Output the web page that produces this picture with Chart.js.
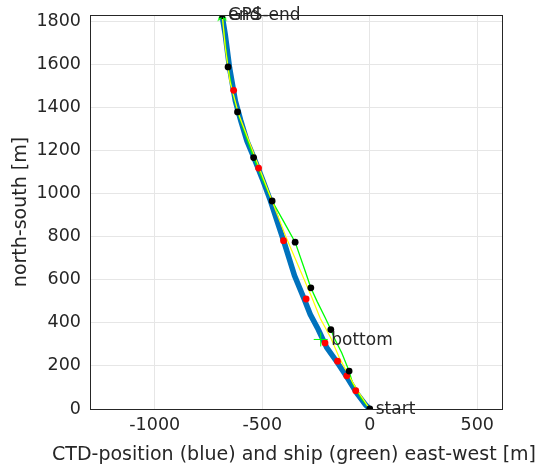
<!DOCTYPE html>
<html>
<head>
<meta charset="utf-8">
<script src="https://cdn.jsdelivr.net/npm/chart.js@4/dist/chart.umd.min.js"></script>
<style>
  html, body { margin: 0; padding: 0; background: #fff; }
  #wrap { width: 545px; height: 464px; position: relative; }
</style>
</head>
<body>
<div id="wrap"><canvas id="c" width="545" height="464"></canvas></div>
<script>
// ------------------------------------------------------------
// data (metres, east-west / north-south)
// ------------------------------------------------------------
const ctdX  = [0, -20, -60, -107, -150, -200, -240, -277, -305, -350, -400, -430, -462, -500, -540, -571, -600, -625, -652, -672, -687];
const ctdY  = [0, 20, 73, 150, 215, 285, 370, 440, 511, 620, 780, 870, 968, 1070, 1170, 1245, 1340, 1431, 1585, 1739, 1830];

const shipX = [0, -40, -80, -96, -130, -165, -181, -210, -245, -274, -300, -347, -400, -454, -500, -540, -580, -615, -640, -659, -672, -686];
const shipY = [0, 50, 120, 176, 260, 330, 369, 430, 500, 563, 640, 775, 870, 966, 1070, 1168, 1280, 1380, 1480, 1589, 1700, 1830];

const midX  = [0, -60, -100, -140, -181, -230, -270, -330, -390, -454, -510, -560, -610, -650, -672, -686];
const midY  = [0, 90, 160, 235, 330, 420, 520, 660, 800, 966, 1110, 1240, 1370, 1520, 1680, 1830];

const shipDotX = [0, -96, -181, -274, -347, -454, -540, -615, -659];
const shipDotY = [0, 176, 369, 563, 775, 966, 1168, 1380, 1589];

const ctdDotX  = [-65, -107, -150, -208, -296, -401, -517, -633];
const ctdDotY  = [85, 154, 222, 307, 511, 782, 1119, 1480];

const endX = [-686], endY = [1830];
const bottomX = [-228], bottomY = [323];

const labelText = ['start', 'bottom', 'end', 'GPS-end'];
const labelX    = [0, -207, -686, -686];
const labelY    = [0, 323, 1830, 1830];

const xTitle = 'CTD-position (blue) and ship (green) east-west [m]';
const yTitle = 'north-south [m]';
const xTicks = [-1000, -500, 0, 500];
const yTicks = [0, 200, 400, 600, 800, 1000, 1200, 1400, 1600, 1800];
const xRange = [-1301, 615];
const yRange = [0, 1830];

const pts = (xs, ys) => xs.map((x, i) => ({ x, y: ys[i] }));

// green pentagram marker
function pentagram(size, color) {
  const cv = document.createElement('canvas');
  cv.width = size; cv.height = size;
  const g = cv.getContext('2d');
  const c = size / 2, R = size / 2 - 1, r = R * 0.38;
  g.beginPath();
  for (let i = 0; i < 10; i++) {
    const a = -Math.PI / 2 + i * Math.PI / 5;
    const rr = i % 2 ? r : R;
    g.lineTo(c + rr * Math.cos(a), c + rr * Math.sin(a));
  }
  g.closePath();
  g.strokeStyle = color; g.lineWidth = 1.2; g.stroke();
  return cv;
}

const FONT = '"DejaVu Sans", sans-serif';
const TXT = '#262626';

const boxPlugin = {
  id: 'box',
  afterDatasetsDraw(chart) {
    const { ctx, chartArea: a } = chart;
    ctx.save();
    ctx.strokeStyle = TXT; ctx.lineWidth = 1;
    ctx.strokeRect(Math.round(a.left) + 0.5, Math.round(a.top) + 0.5,
                   Math.round(a.right - a.left), Math.round(a.bottom - a.top));
    ctx.restore();
  }
};

// text annotations + axis titles (scale titles get squeezed to the axis width)
const labelPlugin = {
  id: 'labels',
  afterDatasetsDraw(chart) {
    const { ctx, scales, chartArea: a } = chart;
    ctx.save();
    ctx.font = '17px ' + FONT;
    ctx.fillStyle = TXT;
    ctx.textAlign = 'left';
    ctx.textBaseline = 'middle';
    labelText.forEach((t, i) => {
      const px = scales.x.getPixelForValue(labelX[i]);
      const py = scales.y.getPixelForValue(labelY[i]);
      ctx.fillText(t, px + 6, py + 1);
    });

    ctx.textAlign = 'center';
    ctx.font = '19px ' + FONT;
    ctx.fillText(xTitle, 294, 455);
    ctx.translate(21, (a.top + a.bottom) / 2);
    ctx.rotate(-Math.PI / 2);
    ctx.fillText(yTitle, 0, 0);
    ctx.restore();
  }
};

new Chart(document.getElementById('c'), {
  type: 'scatter',
  data: {
    datasets: [
      { data: pts(endX, endY), pointStyle: 'star', pointRadius: 4, borderColor: '#000', borderWidth: 1.5 },
      { data: pts(endX, endY), pointStyle: pentagram(14, '#00ff00'), pointRadius: 7 },
      { data: pts(bottomX, bottomY), pointStyle: 'cross', pointRadius: 7, borderColor: '#00ff00', borderWidth: 1 },
      { data: pts(shipDotX, shipDotY), pointRadius: 3.4, backgroundColor: '#000', borderColor: '#000', borderWidth: 0 },
      { data: pts(ctdDotX, ctdDotY), pointRadius: 3.4, backgroundColor: '#ff0000', borderColor: '#ff0000', borderWidth: 0 },
      { data: pts(midX, midY), showLine: true, pointRadius: 0, borderColor: '#ffff00', borderWidth: 1.2 },
      { data: pts(shipX, shipY), showLine: true, pointRadius: 0, borderColor: '#00ff00', borderWidth: 1.3 },
      { data: pts(ctdX, ctdY), showLine: true, pointRadius: 0, borderColor: '#0072bd', borderWidth: 5.5 },
    ],
  },
  options: {
    responsive: false,
    animation: false,
    events: [],
    layout: { padding: { left: 0, right: 43, top: 15, bottom: 0 } },
    plugins: {
      legend: { display: false },
      tooltip: { enabled: false },
    },
    scales: {
      x: {
        type: 'linear',
        min: xRange[0],
        max: xRange[1],
        afterBuildTicks: s => { s.ticks = xTicks.map(v => ({ value: v })); },
        afterFit: s => { s.height = 55; s.paddingLeft = 0; s.paddingRight = 0; },
        grid: { color: '#e6e6e6', drawTicks: false },
        border: { display: false },
        ticks: { color: TXT, font: { family: FONT, size: 17.5 }, padding: 6, maxRotation: 0, callback: v => String(v) },
      },
      y: {
        type: 'linear',
        min: yRange[0],
        max: yRange[1],
        afterBuildTicks: s => { s.ticks = yTicks.map(v => ({ value: v })); },
        afterFit: s => { s.width = 90; s.paddingTop = 0; s.paddingBottom = 0; },
        grid: { color: '#e6e6e6', drawTicks: false },
        border: { display: false },
        ticks: { color: TXT, font: { family: FONT, size: 17.5 }, padding: 9, callback: v => String(v) },
      },
    },
  },
  plugins: [boxPlugin, labelPlugin],
});
</script>
</body>
</html>
